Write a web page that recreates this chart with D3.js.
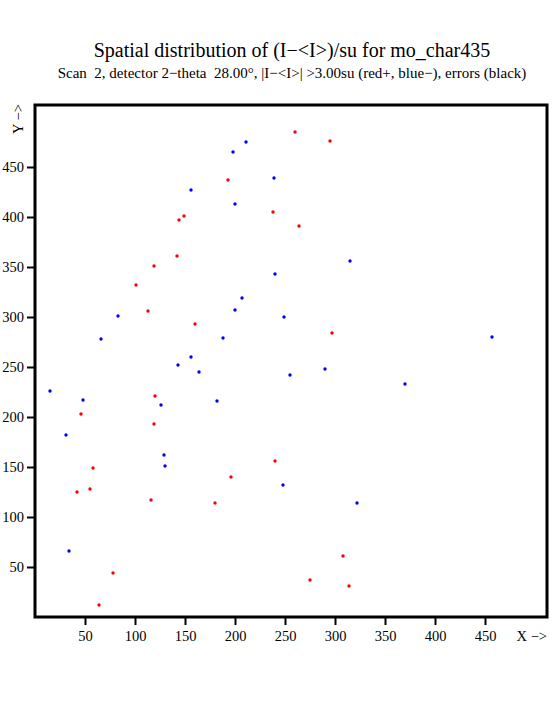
<!DOCTYPE html>
<html><head><meta charset="utf-8">
<script src="https://cdn.jsdelivr.net/npm/d3@7"></script>
<style>body{margin:0;background:#fff}svg{display:block}text{font-family:"Liberation Serif","Times New Roman",serif;white-space:pre}</style>
</head><body>
<script>
const titleText = "Spatial distribution of (I\u2212<I>)/su for mo_char435";
const subtitleText = "Scan  2, detector 2\u2212theta  28.00\u00b0, |I\u2212<I>| >3.00su (red+, blue\u2212), errors (black)";
const xTicks = [50,100,150,200,250,300,350,400,450];
const yTicks = [50,100,150,200,250,300,350,400,450];
const redX = [260,295,193,238,264,149,144,142,119,101,113,160,297,120,46,119,58,55,42,116,78,64,240,196,180,308,275,314];
const redY = [485,476,437,405,391,401,397,361,351,332,306,293,284,221,203,193,149,128,125,117,44,12,156,140,114,61,37,31];
const blueX = [211,198,156,239,200,315,240,207,200,249,457,188,83,66,156,143,164,290,255,370,182,15,48,126,31,129,130,34,248,322];
const blueY = [475,465,427,439,413,356,343,319,307,300,280,279,301,278,260,252,245,248,242,233,216,226,217,212,182,162,151,66,132,114];

const W=555,H=725;
const svg=d3.select("body").append("svg").attr("width",W).attr("height",H);
const x=d3.scaleLinear().domain([0,512]).range([35,547]);
const y=d3.scaleLinear().domain([0,512]).range([617,105]);

svg.append("text").attr("x",292).attr("y",57).attr("text-anchor","middle").attr("font-size",20).text(titleText);
svg.append("text").attr("x",292).attr("y",78).attr("text-anchor","middle").attr("font-size",15).attr("xml:space","preserve").text(subtitleText);

const gx=svg.append("g").attr("transform","translate(0,617)")
  .call(d3.axisBottom(x).tickValues(xTicks).tickSize(8).tickPadding(6).tickFormat(d3.format("d")));
const gy=svg.append("g").attr("transform","translate(35,0)")
  .call(d3.axisLeft(y).tickValues(yTicks).tickSize(8).tickPadding(3).tickFormat(d3.format("d")));
[gx,gy].forEach(g=>{
  g.select(".domain").remove();
  g.selectAll(".tick line").attr("stroke","#000").attr("stroke-width",2);
  g.selectAll(".tick text").attr("font-size",14.5).attr("font-family","Liberation Serif").attr("fill","#000");
});

svg.append("rect").attr("x",x(0)).attr("y",y(512)).attr("width",x(512)-x(0)).attr("height",y(0)-y(512))
  .attr("fill","none").attr("stroke","#000").attr("stroke-width",3);

svg.append("text").attr("x",547).attr("y",641).attr("text-anchor","end").attr("font-size",14.5).text("X \u2212>");
svg.append("text").attr("transform","translate(23,134) rotate(-90)").attr("font-size",14.5).text("Y \u2212>");

svg.append("g").selectAll("circle").data(redX.map((d,i)=>[d,redY[i]])).join("circle")
  .attr("cx",d=>x(d[0])).attr("cy",d=>y(d[1])).attr("r",1.7).attr("fill","#ff0000");
svg.append("g").selectAll("circle").data(blueX.map((d,i)=>[d,blueY[i]])).join("circle")
  .attr("cx",d=>x(d[0])).attr("cy",d=>y(d[1])).attr("r",1.7).attr("fill","#0000ff");
</script>
</body></html>
